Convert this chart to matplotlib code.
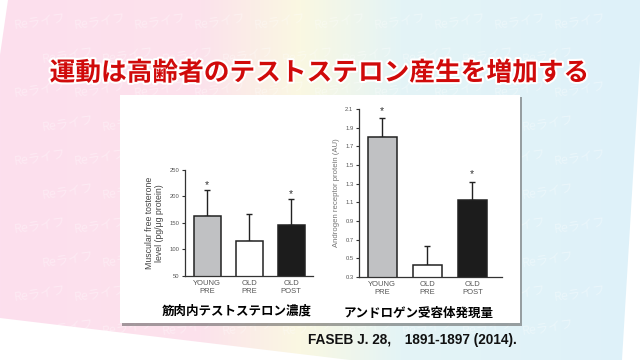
import numpy as np
import matplotlib
matplotlib.use("Agg")
import matplotlib.pyplot as plt
from matplotlib.patches import Polygon, Rectangle
import matplotlib.patheffects as pe

plt.rcParams['font.family'] = ['Liberation Sans', 'DejaVu Sans']

groups = ["YOUNG\nPRE", "OLD\nPRE", "OLD\nPOST"]
bar_colors = ["#c0c1c3", "#ffffff", "#1c1c1c"]

testo_mean = [163, 115, 145]
testo_err = [50, 51, 51]
testo_star = [True, False, True]

ar_mean = [1.80, 0.43, 1.12]
ar_err = [0.20, 0.20, 0.20]
ar_star = [True, False, True]

title = "運動は高齢者のテストステロン産生を増加する"
sub_left = "筋肉内テストステロン濃度"
sub_right = "アンドロゲン受容体発現量"
citation = "FASEB J. 28,　1891-1897 (2014)."

jp = ['Noto Sans CJK JP', 'DejaVu Sans']

fig = plt.figure(figsize=(6.4, 3.6), dpi=100)
bg = fig.add_axes([0, 0, 1, 1])
bg.set_xlim(0, 640)
bg.set_ylim(360, 0)
bg.axis('off')

# pastel background band
xs = np.arange(640)
stops = [0, 200, 300, 400, 640]
rgb = [(252, 223, 238), (252, 226, 236), (250, 248, 226), (228, 244, 246), (222, 241, 250)]
row = np.stack([np.interp(xs, stops, [c[i] for c in rgb]) for i in range(3)], axis=1) / 255
img = np.tile(row[None, :, :], (360, 1, 1))
band = Polygon([(8, 0), (640, 0), (640, 60), (622, 360), (350, 360), (0, 318), (0, 55)],
               closed=True, facecolor='none', edgecolor='none')
bg.add_patch(band)
im = bg.imshow(img, extent=(0, 640, 360, 0), aspect='auto', zorder=0)
im.set_clip_path(band)

# faint watermark
for j, yy in enumerate(range(22, 330, 34)):
    for xx in range(40 + (j % 2) * 28, 600, 60):
        bg.text(xx, yy, "Reライフ", family=jp, fontsize=9, color='white',
                alpha=0.35, rotation=8, ha='center', va='center', zorder=1)

# white panel with shadow
bg.add_patch(Rectangle((122, 97), 400, 229, facecolor='#5a5a5a', alpha=0.55, zorder=2))
bg.add_patch(Rectangle((120, 95), 400, 228, facecolor='white', edgecolor='none', zorder=3))

bg.text(320, 73, title, family=jp, fontsize=18.5, fontweight='bold', color='#d00a0a',
        ha='center', va='center', zorder=4,
        path_effects=[pe.withStroke(linewidth=3, foreground='white')])
bg.text(237, 311, sub_left, family=jp, fontsize=9, fontweight='bold', color='black',
        ha='center', va='center', zorder=4)
bg.text(419, 313, sub_right, family=jp, fontsize=9, fontweight='bold', color='black',
        ha='center', va='center', zorder=4)
bg.text(412, 340, citation, family=['Liberation Sans', 'Noto Sans CJK JP'], fontsize=9.8,
        fontweight='bold', color='#111111', ha='center', va='center', zorder=4)


def bar_panel(rect, means, errs, stars, ylim, ticks, ticklabels, xlim, width,
              ylabel, lab_color, lab_size):
    ax = fig.add_axes(rect)
    ax.set_facecolor('none')
    x = np.arange(len(means))
    ax.bar(x, means, width=width, color=bar_colors, edgecolor='#222222', linewidth=1.1,
           bottom=0, zorder=2)
    ax.errorbar(x, means, yerr=[np.zeros(len(errs)), errs], fmt='none', ecolor='#222222',
                elinewidth=1, capsize=2.5, capthick=1, zorder=1)
    span = ylim[1] - ylim[0]
    for xi, m, e, s in zip(x, means, errs, stars):
        if s:
            ax.text(xi, m + e + span * 0.045, "*", ha='center', va='center', fontsize=7.5,
                    color='#333333')
    ax.set_ylim(*ylim)
    ax.set_xlim(*xlim)
    ax.set_yticks(ticks)
    ax.set_yticklabels(ticklabels)
    ax.set_xticks(x)
    ax.set_xticklabels(groups)
    for sp in ['top', 'right']:
        ax.spines[sp].set_visible(False)
    for sp in ['left', 'bottom']:
        ax.spines[sp].set_color('#333333')
        ax.spines[sp].set_linewidth(0.9)
    ax.tick_params(axis='y', length=2.5, width=0.8, pad=1.5, labelsize=4.2,
                   labelcolor='#555555', color='#333333')
    ax.tick_params(axis='x', length=0, pad=3, labelsize=5.5, labelcolor='#555555')
    ax.set_ylabel(ylabel, fontsize=lab_size, color=lab_color, labelpad=4, linespacing=1.1)
    return ax


bar_panel([185 / 640, 1 - 275.7 / 360, 128 / 640, 105.7 / 360],
          testo_mean, testo_err, testo_star, (50, 250),
          [50, 100, 150, 200, 250], ["50", "100", "150", "200", "250"],
          (-0.53, 2.52), 0.635,
          "Muscular free tosterone\nlevel (pg/μg protein)", '#444444', 6.3)

ar_ticks = [0.3, 0.5, 0.7, 0.9, 1.1, 1.3, 1.5, 1.7, 1.9, 2.1]
bar_panel([359 / 640, 1 - 277 / 360, 143 / 640, 168 / 360],
          ar_mean, ar_err, ar_star, (0.3, 2.1),
          ar_ticks, [f"{t:.1f}" for t in ar_ticks],
          (-0.518, 2.66), 0.65,
          "Androgen receptor protein (AU)", '#777777', 5.6)

fig.savefig("out.png", dpi=100)
